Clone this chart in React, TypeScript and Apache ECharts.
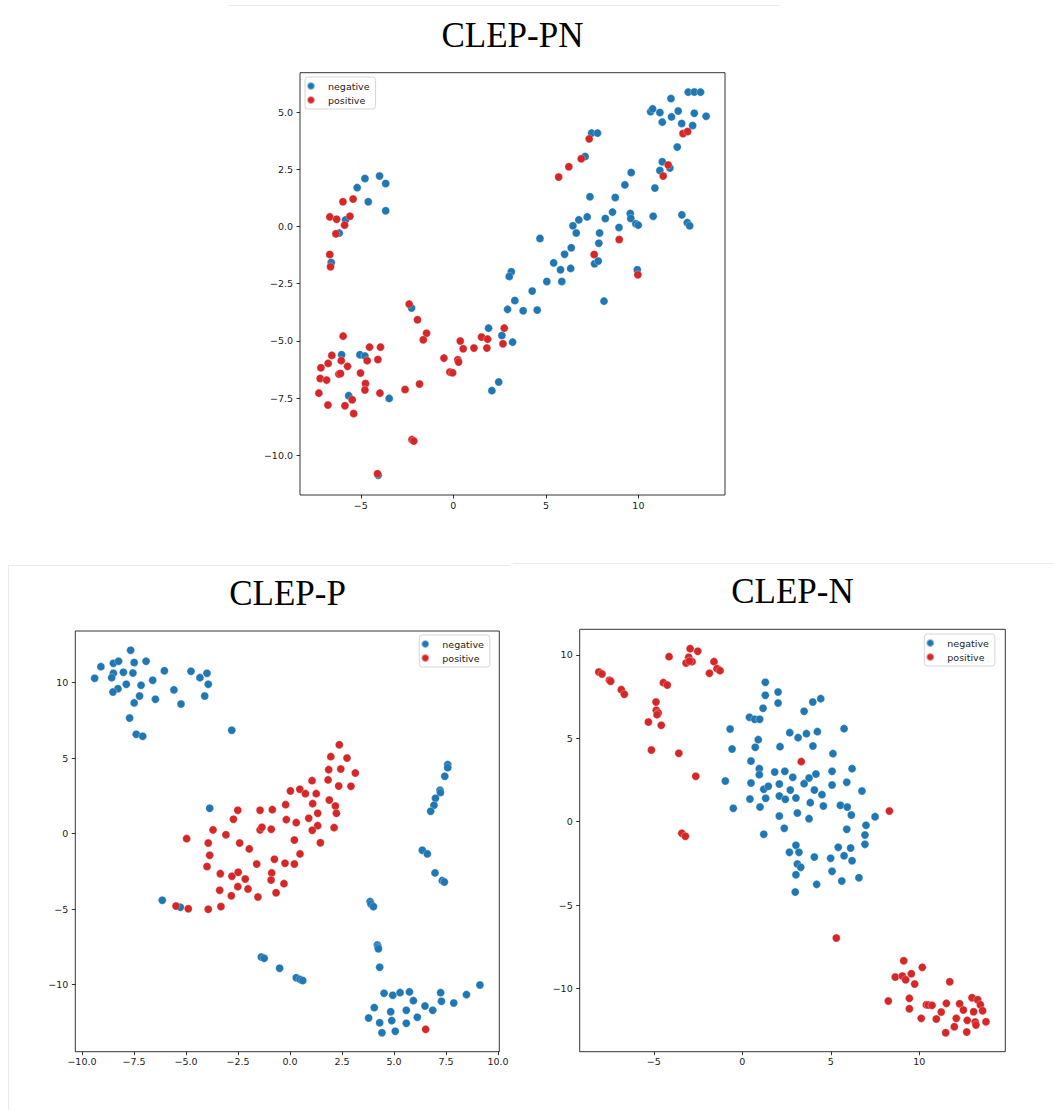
import React, { useEffect, useRef } from 'react';
import * as echarts from 'echarts';

// ---------- CLEP-PN ----------
const pnNegative: number[][] = [
  [-5.83, 0.29], [-6.17, -0.29], [-5.2, 1.7], [-4.78, 2.1], [-4.6, 1.08], [-3.99, 2.21], [-3.66, 1.88], [-3.66, 0.69], [-6.6, -1.57],
  [7.47, 4.08], [7.79, 4.08], [7.12, 3.06], [4.68, -0.52], [7.38, 1.3], [8.75, 1.27], [9.27, 1.82], [9.61, 2.36], [10.89, 1.68],
  [11.29, 2.83], [11.16, 2.45], [11.7, 2.56], [12.1, 3.47], [7.23, 0.42], [6.78, 0.29], [6.46, 0.03], [6.64, -0.28], [8.21, 0.35],
  [8.6, 0.63], [8.95, -0.04], [9.56, 0.57], [9.59, 0.35], [9.86, 0.12], [9.99, 0.06], [10.8, 0.45], [12.35, 0.51], [12.64, 0.17],
  [12.77, 0.03], [7.9, -0.28], [7.86, -0.73], [6.37, -0.93], [6.01, -1.21], [5.42, -1.59], [5.79, -1.89], [6.34, -1.83],
  [7.63, -1.63], [7.83, -1.51], [9.94, -1.89], [3.13, -1.98], [3.02, -2.18],
  [12.69, 5.87], [13.02, 5.88], [13.36, 5.87], [11.76, 5.59], [10.66, 5.02], [10.77, 5.14], [11.16, 4.98], [12.15, 5.05],
  [13.02, 4.95], [13.66, 4.82], [11.29, 4.56], [11.79, 4.79], [12.34, 4.5], [12.93, 4.41],
  [5.05, -2.4], [5.86, -2.4], [4.26, -2.82], [3.32, -3.23], [2.93, -3.62], [3.77, -3.68], [4.53, -3.65], [8.14, -3.26],
  [2.62, -4.76], [3.2, -5.05], [2.45, -6.79],
  [-2.26, -3.56], [-6.04, -5.6], [-5.05, -5.6], [-4.78, -5.66], [-5.66, -7.39], [-3.47, -7.51], [-4.06, -10.87], [1.9, -4.44], [2.08, -7.17],
];
const pnPositive: number[][] = [
  [-6.68, 0.42], [-6.31, 0.32], [-5.97, 1.08], [-5.42, 1.2], [-5.59, 0.45], [-5.88, 0.06], [-6.35, -0.32], [-6.68, -1.22], [-6.64, -1.76],
  [7.34, 3.83], [6.91, 2.96], [6.24, 2.61], [5.69, 2.16], [12.41, 4.06], [12.66, 4.15], [11.61, 2.69], [11.34, 2.21], [8.96, -0.57],
  [7.61, -1.22], [9.97, -2.11], [2.75, -4.44], [2.68, -5.12],
  [-2.39, -3.39], [-1.94, -4.07], [-1.45, -4.66], [-1.63, -4.95], [-5.96, -4.79], [-6.57, -5.63], [-6.06, -5.86], [-7.16, -6.17],
  [-6.77, -5.98], [-5.72, -6.11], [-4.53, -5.27], [-3.94, -5.27], [-4.66, -5.86], [-4.08, -5.81], [-7.2, -6.64], [-6.85, -6.71],
  [-6.19, -6.45], [-6.1, -6.42], [-5.02, -6.4], [-4.75, -6.86], [-4.78, -7.14], [-7.27, -7.28], [-6.78, -7.8], [-5.86, -7.83],
  [-5.47, -7.57], [-5.39, -8.17], [-3.97, -7.28], [-2.61, -7.12], [-1.83, -6.88], [-2.24, -9.31], [-2.14, -9.37], [-4.1, -10.8],
  [-0.51, -5.75], [-0.19, -6.36], [-0.04, -6.39], [0.24, -5.82], [0.28, -5.92], [0.37, -5.0], [0.53, -5.34], [1.11, -5.31],
  [1.52, -4.83], [1.85, -4.92], [1.81, -5.31],
];

// ---------- CLEP-P ----------
const pNegative: number[][] = [
  [-9.39, 10.29], [-9.09, 11.06], [-8.49, 11.28], [-8.24, 11.42], [-7.66, 12.15], [-7.49, 11.33], [-6.92, 11.42], [-8.49, 10.62],
  [-8.57, 10.33], [-8.01, 10.69], [-7.55, 10.64], [-7.87, 9.89], [-7.16, 9.83], [-8.27, 9.6], [-8.51, 9.38], [-6.6, 10.16],
  [-6.04, 10.79], [-7.23, 9.12], [-6.47, 8.9], [-7.49, 8.66], [-5.58, 9.52], [-5.24, 8.59], [-4.76, 10.75], [-4.33, 10.33],
  [-3.99, 10.62], [-3.93, 9.89], [-4.1, 9.12], [-7.71, 7.66], [-7.39, 6.58], [-7.08, 6.45], [-2.8, 6.85], [-3.86, 1.68],
  [-6.14, -4.41], [-5.27, -4.87], [-1.38, -8.17], [-1.24, -8.25], [-0.5, -8.91],
  [7.58, 4.57], [7.58, 4.37], [7.44, 3.8], [7.21, 2.87], [7.23, 2.72], [6.99, 2.34], [6.92, 1.88], [6.76, 1.48],
  [6.36, -1.1], [6.6, -1.34], [6.97, -2.6], [7.32, -3.11], [7.42, -3.2], [3.85, -4.5], [3.89, -4.66], [4.01, -4.83],
  [4.2, -7.37], [4.23, -7.5], [4.25, -7.62], [4.31, -8.85], [0.3, -9.54], [0.48, -9.65], [0.61, -9.73], [9.13, -10.02],
  [4.52, -10.57], [4.94, -10.7], [5.29, -10.53], [5.74, -10.48], [7.24, -10.53], [8.48, -10.66], [5.93, -11.06], [7.28, -11.1],
  [7.87, -11.21], [6.49, -11.41], [4.05, -11.52], [4.84, -11.79], [5.59, -11.7], [6.86, -11.7], [3.78, -12.21], [6.12, -12.16],
  [4.31, -12.52], [4.89, -12.38], [5.59, -12.56], [4.42, -13.18], [5.06, -13.09],
];
const pPositive: number[][] = [
  [-2.51, 1.55], [-2.72, 0.95], [-3.7, 0.25], [-3.08, -0.07], [-4.97, -0.33], [-1.44, 1.55], [-0.85, 1.59], [-0.21, 1.92],
  [-0.18, 0.93], [-1.44, 0.25], [-1.35, 0.42], [-0.9, 0.29], [0.02, 2.83],
  [-3.93, -0.62], [-2.42, -0.62], [-1.96, -1.01], [-3.86, -1.43], [-3.99, -2.18], [-1.6, -2.01], [-0.75, -1.7], [-0.24, -1.96],
  [-3.35, -2.65], [-2.79, -2.82], [-2.49, -2.56], [-2.15, -3.0], [-0.88, -2.6], [-0.91, -3.07], [-0.29, -3.31], [-2.51, -3.51],
  [-2.02, -3.66], [-3.38, -3.75], [-0.67, -3.91], [-2.82, -4.11], [-1.54, -4.19], [-5.48, -4.79], [-4.89, -4.97], [-3.93, -5.01],
  [-3.32, -4.83],
  [2.37, 5.89], [1.96, 5.1], [2.74, 5.01], [1.86, 4.24], [2.44, 4.28], [3.14, 4.02], [1.83, 3.56], [2.34, 3.16], [2.93, 3.14],
  [1.06, 3.51], [0.47, 2.94], [0.74, 2.65], [1.26, 2.65], [1.09, 1.99], [1.89, 2.23], [2.18, 1.83], [2.23, 1.35], [1.33, 1.35],
  [0.9, 1.02], [0.3, 0.73], [1.33, 0.53], [1.07, 0.22], [2.12, 0.4], [0.21, -0.42],
  [1.46, -0.6], [0.48, -1.34], [0.21, -2.01], [6.52, -12.96],
];

// ---------- CLEP-N ----------
const nNegative: number[][] = [
  [-0.69, 5.56], [-0.58, 4.36], [-0.96, 2.44], [-0.51, 0.8], [0.4, 6.26], [0.7, 6.14], [0.98, 6.14], [1.17, 6.8], [1.3, 8.36],
  [1.3, 7.58], [2.02, 7.78], [2.02, 7.12], [0.9, 4.92], [0.73, 4.46], [0.49, 3.64], [0.96, 3.18], [0.96, 2.82], [1.83, 2.98],
  [0.49, 2.32], [1.21, 1.94], [1.47, 2.12], [0.43, 1.36], [1.32, 1.4], [1.0, 0.88], [1.21, -0.76], [2.13, 4.5], [2.09, 2.26],
  [2.09, 1.54], [2.09, 0.34],
  [3.98, 7.18], [4.43, 7.38], [3.49, 6.62], [5.75, 5.58], [2.68, 5.34], [3.15, 5.04], [3.62, 5.28], [4.24, 5.4], [3.99, 4.54],
  [5.12, 4.08], [2.4, 3.02], [2.85, 2.66], [3.77, 2.62], [4.16, 2.86], [5.07, 3.02], [6.2, 3.18], [3.49, 2.28], [5.07, 2.2],
  [5.9, 2.36], [2.71, 1.9], [4.07, 1.9], [6.76, 1.84], [2.43, 1.34], [3.03, 1.42], [4.5, 1.62], [3.84, 1.14], [4.58, 0.94],
  [5.54, 0.98], [5.93, 0.88], [3.11, 0.52], [3.77, 0.18], [6.16, 0.4], [7.5, 0.3], [2.37, -0.4], [5.9, -0.46], [6.99, -0.22],
  [6.93, -0.8], [6.93, -1.36], [3.03, -1.42], [5.42, -1.54], [6.12, -1.58],
  [2.66, -1.84], [3.2, -1.84], [4.07, -2.12], [4.99, -2.2], [5.75, -2.04], [6.2, -2.34], [3.11, -2.54], [3.3, -2.74],
  [3.03, -3.18], [5.07, -2.98], [6.59, -3.36], [5.62, -3.56], [4.2, -3.76], [2.99, -4.22],
];
const nPositive: number[][] = [
  [-8.11, 8.98], [-7.93, 8.86], [-7.51, 8.48], [-7.44, 8.42], [-6.84, 7.92], [-6.67, 7.64], [-5.31, 5.98], [-5.14, 4.3],
  [-4.88, 7.18], [-4.86, 6.68], [-4.75, 6.52], [-4.82, 6.42], [-4.58, 5.78], [-4.46, 8.34], [-4.24, 8.2], [-4.14, 9.9],
  [-3.59, 4.1], [-2.63, 2.72], [-3.42, -0.7], [-3.22, -0.88], [-2.95, 10.38], [-3.03, 9.86], [-3.18, 9.52], [-2.84, 9.6],
  [-2.99, 9.63], [-2.52, 10.22], [-1.86, 8.9], [-1.6, 9.6], [-1.43, 9.18], [-1.26, 9.06], [3.33, 3.6], [8.31, 0.64],
  [5.31, -6.98], [9.12, -8.34], [10.17, -8.74], [8.64, -9.32], [9.04, -9.26], [9.23, -9.48], [9.55, -9.12], [9.74, -9.74],
  [11.72, -9.6], [8.25, -10.76], [9.44, -10.6], [9.44, -11.22], [10.4, -10.98], [10.51, -11.0], [10.72, -11.02], [11.53, -10.9],
  [12.28, -10.92], [12.98, -10.56], [13.3, -10.68], [13.45, -10.98], [13.58, -11.34], [13.07, -11.4], [12.49, -11.3],
  [11.24, -11.42], [10.11, -11.8], [10.96, -11.84], [12.09, -11.8], [12.71, -11.92], [13.16, -12.02], [13.2, -12.2],
  [13.77, -12.0], [11.98, -12.3], [11.49, -12.66], [12.68, -12.62],
];

// axis limits and ticks
const pnXRange = [-8.29, 14.68];
const pnYRange = [-11.73, 6.72];
const pXRange = [-10.32, 10.06];
const pYRange = [-14.44, 13.42];
const nXRange = [-9.19, 14.86];
const nYRange = [-13.8, 11.54];

const pnXTicks = [-5, 0, 5, 10];
const pnYTicks = [-10, -7.5, -5, -2.5, 0, 2.5, 5];
const pXTicks = [-10, -7.5, -5, -2.5, 0, 2.5, 5, 7.5, 10];
const pYTicks = [-10, -5, 0, 5, 10];
const nXTicks = [-5, 0, 5, 10];
const nYTicks = [-10, -5, 0, 5, 10];

const titles = ['CLEP-PN', 'CLEP-P', 'CLEP-N'];
const seriesNames = ['negative', 'positive'];

const BLUE = '#1f77b4';
const RED = '#d62728';
const MINUS = '\u2212';

const fmt = (d: number) => (v: number) => {
  const s = Math.abs(v).toFixed(d);
  return v < 0 ? MINUS + s : s;
};

function makeAxis(gridIndex: number, range: number[], ticks: number[], decimals: number, isX: boolean) {
  return {
    type: 'value',
    gridIndex,
    min: range[0],
    max: range[1],
    position: isX ? 'bottom' : 'left',
    splitLine: { show: false },
    axisLine: { show: false, onZero: false },
    axisTick: {
      show: true,
      customValues: ticks,
      length: 3.5,
      lineStyle: { color: '#000', width: 0.8 },
    },
    axisLabel: {
      show: true,
      customValues: ticks,
      formatter: fmt(decimals),
      fontFamily: 'DejaVu Sans',
      fontSize: 9.5,
      color: '#222',
      margin: isX ? 5 : 7,
    },
  };
}

function makeLegend(left: number, top: number) {
  return {
    data: seriesNames,
    left,
    top,
    orient: 'vertical',
    icon: 'circle',
    itemWidth: 24,
    itemHeight: 8,
    itemGap: 2,
    padding: [3, 6, 3, 1],
    backgroundColor: '#fff',
    borderColor: '#cccccc',
    borderWidth: 0.8,
    borderRadius: 3,
    selectedMode: false,
    textStyle: { fontFamily: 'DejaVu Sans', fontSize: 9.5, color: '#222', lineHeight: 12 },
  };
}

function scatter(name: string, data: number[][], idx: number, color: string) {
  return {
    type: 'scatter',
    name,
    xAxisIndex: idx,
    yAxisIndex: idx,
    data,
    symbol: 'circle',
    symbolSize: 8,
    itemStyle: { color, borderColor: 'rgba(255,255,255,0.55)', borderWidth: 0.5, opacity: 1 },
    emphasis: { disabled: true },
  };
}

const titleText = (text: string, x: number, y: number) => ({
  type: 'text',
  x,
  y,
  style: {
    text,
    font: '35px "Liberation Serif", "Times New Roman", serif',
    fill: '#000',
    textAlign: 'center',
    textVerticalAlign: 'middle',
  },
});

const sepLine = (x1: number, y1: number, x2: number, y2: number) => ({
  type: 'line',
  shape: { x1, y1, x2, y2 },
  style: { stroke: '#ebebeb', lineWidth: 1 },
  silent: true,
});

export default function App() {
  const ref = useRef<HTMLDivElement>(null);
  useEffect(() => {
    if (!ref.current) return;
    const chart = echarts.init(ref.current, undefined, { renderer: 'svg' });
    const option: any = {
      animation: false,
      backgroundColor: '#fff',
      grid: [
        { left: 300, top: 72.7, width: 425, height: 422.3, show: true, borderColor: '#000', borderWidth: 0.8, backgroundColor: '#fff' },
        { left: 75.3, top: 631, width: 424, height: 420.7, show: true, borderColor: '#000', borderWidth: 0.8, backgroundColor: '#fff' },
        { left: 579.7, top: 629.3, width: 425.6, height: 422.4, show: true, borderColor: '#000', borderWidth: 0.8, backgroundColor: '#fff' },
      ],
      xAxis: [
        makeAxis(0, pnXRange, pnXTicks, 0, true),
        makeAxis(1, pXRange, pXTicks, 1, true),
        makeAxis(2, nXRange, nXTicks, 0, true),
      ],
      yAxis: [
        makeAxis(0, pnYRange, pnYTicks, 1, false),
        makeAxis(1, pYRange, pYTicks, 0, false),
        makeAxis(2, nYRange, nYTicks, 0, false),
      ],
      legend: [makeLegend(305, 77), makeLegend(419.3, 635), makeLegend(924.3, 634)],
      series: [
        scatter(seriesNames[0], pnNegative, 0, BLUE),
        scatter(seriesNames[1], pnPositive, 0, RED),
        scatter(seriesNames[0], pNegative, 1, BLUE),
        scatter(seriesNames[1], pPositive, 1, RED),
        scatter(seriesNames[0], nNegative, 2, BLUE),
        scatter(seriesNames[1], nPositive, 2, RED),
      ],
      graphic: [
        sepLine(228, 5.5, 780, 5.5),
        sepLine(8, 565.5, 510, 565.5),
        sepLine(8.5, 565, 8.5, 1110),
        sepLine(513, 563.5, 1054, 563.5),
        titleText(titles[0], 512.5, 35),
        titleText(titles[1], 287.5, 593),
        titleText(titles[2], 792.5, 591),
      ],
    };
    chart.setOption(option);
    return () => chart.dispose();
  }, []);
  return (
    <div
      ref={ref}
      style={{ position: 'absolute', left: 0, top: 0, width: 1054, height: 1110, background: '#fff' }}
    />
  );
}
